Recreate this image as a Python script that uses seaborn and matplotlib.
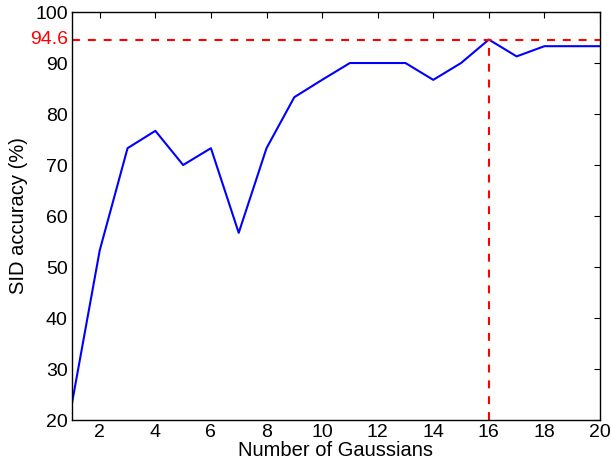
import matplotlib
matplotlib.use("Agg")
import matplotlib.pyplot as plt
import seaborn as sns
import pandas as pd

n_gaussians = list(range(1, 21))
accuracy = [23.3, 53.3, 73.3, 76.7, 70.0, 73.3, 56.7, 73.3, 83.3, 86.7,
            90.0, 90.0, 90.0, 86.7, 90.0, 94.6, 91.3, 93.3, 93.3, 93.3]
best_x = 16
best_y = 94.6
xticks = list(range(2, 21, 2))
yticks = list(range(20, 101, 10))

sns.set_theme(style="white")
plt.rcParams['font.family'] = ['Liberation Sans', 'DejaVu Sans']

df = pd.DataFrame({"n": n_gaussians, "acc": accuracy})

fig = plt.figure(figsize=(6.11, 4.66), dpi=100)
ax = fig.add_axes([0.1178, 0.0987, 0.8642, 0.8755])

sns.lineplot(data=df, x="n", y="acc", ax=ax, color=(0, 0, 1), linewidth=1.5)

ax.plot([1, 20], [best_y, best_y], color=(1, 0, 0), linestyle=(0, (3.8, 3.8)), linewidth=1.5)
ax.plot([best_x, best_x], [20, best_y], color=(1, 0, 0), linestyle=(0, (3.8, 3.8)), linewidth=1.5)

ax.set_xlim(1, 20)
ax.set_ylim(20, 100)
ax.set_xticks(xticks)
ax.set_yticks(yticks)
ax.tick_params(direction="in", top=True, right=True, length=4, width=0.8,
               labelsize=14, colors="black", pad=3)
for s in ax.spines.values():
    s.set_color("black")
    s.set_linewidth(1.0)
    s.set_visible(True)

ax.text(-0.007, best_y, "94.6", color=(1, 0, 0), fontsize=14,
        transform=ax.get_yaxis_transform(), ha="right", va="center")

ax.set_xlabel("Number of Gaussians", fontsize=14.5, color="black", labelpad=0)
ax.set_ylabel("SID accuracy (%)", fontsize=14.5, color="black", labelpad=5)

fig.savefig("out.png", dpi=100)
